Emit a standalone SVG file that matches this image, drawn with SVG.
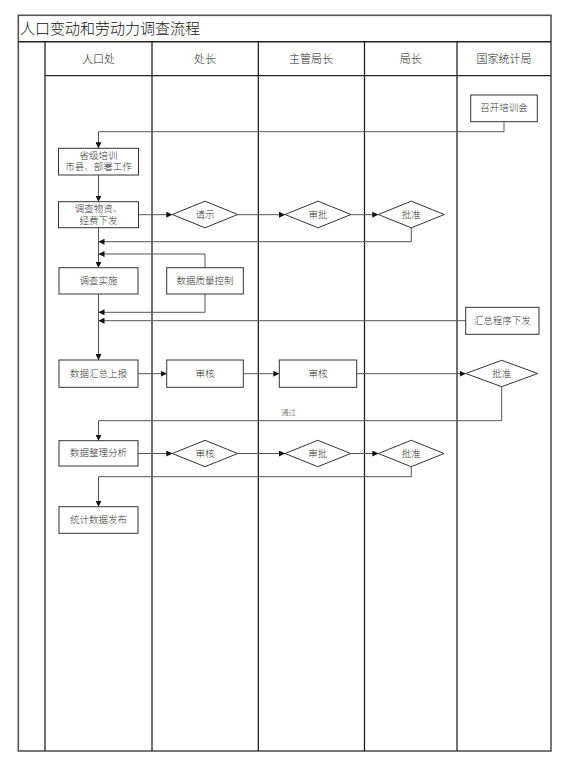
<svg xmlns="http://www.w3.org/2000/svg" width="562" height="768" viewBox="0 0 562 768">
<defs>
<style>
.frame{fill:none;stroke:#555;stroke-width:1.6}
.lane{stroke:#111;stroke-width:1.2;fill:none}
.box{fill:#fff;stroke:#333;stroke-width:1}
.t{font-family:"Liberation Serif","Noto Sans CJK SC",serif;font-weight:300;fill:#333;font-size:9.5px;text-anchor:middle;dominant-baseline:central}
.h{font-family:"Liberation Serif","Noto Sans CJK SC",serif;font-weight:300;fill:#222;font-size:11px;text-anchor:middle;dominant-baseline:central}
.c{fill:none;stroke:#555;stroke-width:1}
</style>
<marker id="ah" viewBox="0 0 10 10" refX="10" refY="5" markerWidth="6" markerHeight="6" markerUnits="userSpaceOnUse" orient="auto">
<path d="M0,0 L10,5 L0,10 z" fill="#111"/>
</marker>
</defs>
<rect width="562" height="768" fill="#fff"/>
<g id="frame">
<rect class="frame" x="18.3" y="15.3" width="532.7" height="735.7"/>
<line x1="18.3" y1="41.7" x2="551" y2="41.7" stroke="#222" stroke-width="1.6"/>
<line x1="45" y1="75.7" x2="551" y2="75.7" stroke="#222" stroke-width="1.3"/>
<line class="lane" x1="45" y1="41.7" x2="45" y2="751"/>
<line class="lane" x1="152" y1="41.7" x2="152" y2="751"/>
<line class="lane" x1="258.3" y1="41.7" x2="258.3" y2="751"/>
<line class="lane" x1="364.5" y1="41.7" x2="364.5" y2="751"/>
<line class="lane" x1="457" y1="41.7" x2="457" y2="751"/>
<text x="20" y="28.7" font-family="Liberation Serif,Noto Sans CJK SC,serif" font-weight="300" font-size="15" fill="#111" dominant-baseline="central">人口变动和劳动力调查流程</text>
<text class="h" x="98.5" y="58.5">人口处</text>
<text class="h" x="205" y="58.5">处长</text>
<text class="h" x="311" y="58.5">主管局长</text>
<text class="h" x="410.7" y="58.5">局长</text>
<text class="h" x="504" y="58.5">国家统计局</text>
</g>
<g id="connectors">
<polyline class="c" points="504,121.7 504,131.7 98.5,131.7 98.5,148.3" marker-end="url(#ah)"/>
<line class="c" x1="98.5" y1="175" x2="98.5" y2="201.7" marker-end="url(#ah)"/>
<line class="c" x1="138.5" y1="214.7" x2="172.3" y2="214.7" marker-end="url(#ah)"/>
<line class="c" x1="237.7" y1="214.7" x2="285" y2="214.7" marker-end="url(#ah)"/>
<line class="c" x1="351" y1="214.7" x2="378.3" y2="214.7" marker-end="url(#ah)"/>
<polyline class="c" points="411.3,227.7 411.3,241.7 98.5,241.7" marker-end="url(#ah)"/>
<line class="c" x1="98.5" y1="227.7" x2="98.5" y2="267.7" marker-end="url(#ah)"/>
<polyline class="c" points="205,267.7 205,254 98.5,254" marker-end="url(#ah)"/>
<polyline class="c" points="205,294 205,312.3 98.5,312.3" marker-end="url(#ah)"/>
<line class="c" x1="465.7" y1="320.7" x2="98.5" y2="320.7" marker-end="url(#ah)"/>
<line class="c" x1="98.5" y1="294" x2="98.5" y2="360" marker-end="url(#ah)"/>
<line class="c" x1="138" y1="373.7" x2="166.7" y2="373.7" marker-end="url(#ah)"/>
<line class="c" x1="243.3" y1="373.7" x2="279.3" y2="373.7" marker-end="url(#ah)"/>
<line class="c" x1="356.7" y1="373.7" x2="465.7" y2="373.7" marker-end="url(#ah)"/>
<polyline class="c" points="501.7,386.7 501.7,420.7 98.5,420.7 98.5,440.7" marker-end="url(#ah)"/>
<text x="281.5" y="412.5" font-family="Liberation Serif,Noto Sans CJK SC,serif" font-weight="300" font-size="7" fill="#333" dominant-baseline="central">通过</text>
<line class="c" x1="138" y1="453.5" x2="172.3" y2="453.5" marker-end="url(#ah)"/>
<line class="c" x1="237.7" y1="453.5" x2="285" y2="453.5" marker-end="url(#ah)"/>
<line class="c" x1="350.7" y1="453.5" x2="378.3" y2="453.5" marker-end="url(#ah)"/>
<polyline class="c" points="411.3,466.7 411.3,476.7 98.5,476.7 98.5,506.7" marker-end="url(#ah)"/>
</g>
<g id="n_zhaokai">
<rect class="box" x="470.7" y="95" width="66.6" height="26.7"/>
<text class="t" x="504" y="108.3">召开培训会</text>
</g>
<g id="n_shengji">
<rect class="box" x="58.5" y="148.3" width="80" height="26.7"/>
<text class="t" x="98.5" y="156">省级培训</text>
<text class="t" x="98.5" y="167">市县、部署工作</text>
</g>
<g id="n_wuzi">
<rect class="box" x="58.5" y="201.7" width="80" height="26"/>
<text class="t" x="98.5" y="209">调查物资、</text>
<text class="t" x="98.5" y="220.5">经费下发</text>
</g>
<g id="n_qingshi">
<polygon class="box" points="172.3,214.5 205,201.2 237.7,214.5 205,227.8"/>
<text class="t" x="205" y="214.5">请示</text>
</g>
<g id="n_shenpi1">
<polygon class="box" points="285,214.5 318,201.2 351,214.5 318,227.8"/>
<text class="t" x="318" y="214.5">审批</text>
</g>
<g id="n_pizhun1">
<polygon class="box" points="378.3,214.5 411.3,201.2 444.3,214.5 411.3,227.8"/>
<text class="t" x="411.3" y="214.5">批准</text>
</g>
<g id="n_shishi">
<rect class="box" x="59" y="267.7" width="79" height="26.3"/>
<text class="t" x="98.5" y="280.8">调查实施</text>
</g>
<g id="n_zhiliang">
<rect class="box" x="166.7" y="267.7" width="76.6" height="26.3"/>
<text class="t" x="205" y="280.8">数据质量控制</text>
</g>
<g id="n_huizongchengxu">
<rect class="box" x="465.7" y="307.3" width="73.3" height="27"/>
<text class="t" x="502.3" y="320.8">汇总程序下发</text>
</g>
<g id="n_shangbao">
<rect class="box" x="59" y="360" width="79" height="27.3"/>
<text class="t" x="98.5" y="373.7">数据汇总上报</text>
</g>
<g id="n_shenhe1">
<rect class="box" x="166.7" y="360" width="76.6" height="27.3"/>
<text class="t" x="205" y="373.7">审核</text>
</g>
<g id="n_shenhe2">
<rect class="box" x="279.3" y="360" width="77.4" height="27.3"/>
<text class="t" x="318" y="373.7">审核</text>
</g>
<g id="n_pizhun2">
<polygon class="box" points="465.7,373.5 501.7,360.3 537.7,373.5 501.7,386.7"/>
<text class="t" x="501.7" y="373.5">批准</text>
</g>
<g id="n_fenxi">
<rect class="box" x="59" y="440.7" width="79" height="25.3"/>
<text class="t" x="98.5" y="453.3">数据整理分析</text>
</g>
<g id="n_shenhe3">
<polygon class="box" points="172.3,453.5 205,440.3 237.7,453.5 205,466.7"/>
<text class="t" x="205" y="453.5">审核</text>
</g>
<g id="n_shenpi2">
<polygon class="box" points="285,453.5 317.8,440.3 350.7,453.5 317.8,466.7"/>
<text class="t" x="317.8" y="453.5">审批</text>
</g>
<g id="n_pizhun3">
<polygon class="box" points="378.3,453.5 411.2,440.3 444,453.5 411.2,466.7"/>
<text class="t" x="411.2" y="453.5">批准</text>
</g>
<g id="n_fabu">
<rect class="box" x="59" y="506.7" width="79" height="26.6"/>
<text class="t" x="98.5" y="520">统计数据发布</text>
</g>
</svg>
